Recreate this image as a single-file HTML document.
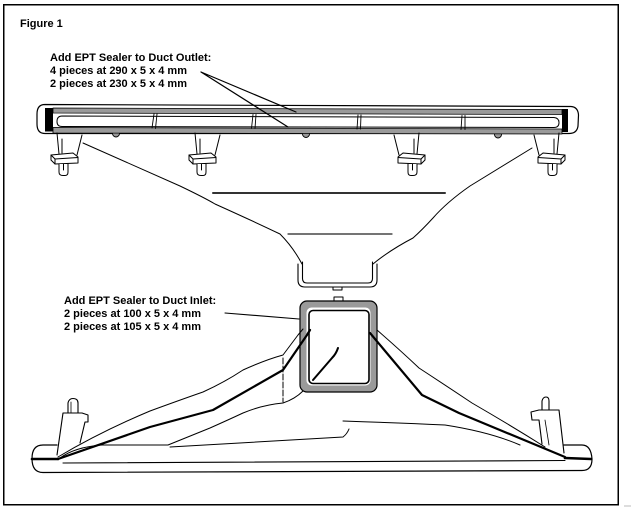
<!DOCTYPE html>
<html><head><meta charset="utf-8"><style>
html,body{margin:0;padding:0;background:#fff;}
svg{display:block;}
text{font-family:"Liberation Sans",Arial,sans-serif;font-weight:bold;font-size:11px;fill:#000;}
</style></head><body>
<svg width="632" height="509" viewBox="0 0 632 509" xmlns="http://www.w3.org/2000/svg">
<rect width="632" height="509" fill="#fff"/>
<rect x="3.75" y="4.75" width="614.5" height="500" fill="none" stroke="#000" stroke-width="1.5"/>
<line x1="624" y1="506" x2="631" y2="506" stroke="#bbb" stroke-width="1"/>

<text x="20" y="27">Figure 1</text>
<text x="50" y="61">Add EPT Sealer to Duct Outlet:</text>
<text x="50" y="74">4 pieces at 290 x 5 x 4 mm</text>
<text x="50" y="87">2 pieces at 230 x 5 x 4 mm</text>

<text x="64" y="304">Add EPT Sealer to Duct Inlet:</text>
<text x="64" y="317">2 pieces at 100 x 5 x 4 mm</text>
<text x="64" y="330">2 pieces at 105 x 5 x 4 mm</text>

<g fill="none" stroke="#000" stroke-linejoin="round" stroke-linecap="round">
<!-- ===== TOP DUCT ===== -->
<path d="M45,104.5 L571,106.5 Q578,107 578.5,115 L578,126 Q577,133.5 569,133.5 L45,133.5 Q37,133.5 37,124 L37,114 Q37,104.5 45,104.5 Z" fill="#fff" stroke-width="1.2"/>
<circle cx="116" cy="133.5" r="3.5" fill="#999" stroke-width="0.9"/>
<circle cx="306" cy="134" r="3.5" fill="#999" stroke-width="0.9"/>
<circle cx="498" cy="134.5" r="3.5" fill="#999" stroke-width="0.9"/>
<path d="M53,108 L562,109.5 L562,114.5 L53,113 Z" fill="#9a9a9a" stroke-width="0.8"/>
<path d="M53,127.5 L562,129 L562,134 L53,133 Z" fill="#9a9a9a" stroke-width="0.8"/>
<rect x="45" y="108" width="8" height="23.5" fill="#000" stroke="none"/>
<rect x="562" y="109" width="6" height="23" fill="#000" stroke="none"/>
<path d="M62,116 L554,117.5 Q559,118 559,122.5 Q559,127.5 554,127.5 L62,126.5 Q57,126.5 57,121.5 Q57,116 62,116 Z" stroke-width="1"/>
<path d="M154,114 L152,128 M157,114 L155.5,128.5" stroke-width="0.9"/>
<path d="M253,114.5 L251.5,128.5 M256,114.5 L255,128.5" stroke-width="0.9"/>
<path d="M358,115 L357,129 M361,115 L360.5,129" stroke-width="0.9"/>
<path d="M462,115.5 L461,129.5 M465,115.5 L465,129.5" stroke-width="0.9"/>

<!-- clips top -->
<g id="clipA" transform="translate(55,133)" stroke-width="1">
 <path d="M2,0 L4,21 M27,2 L22,22 M7,6 L7,20"/>
 <path d="M-4,22 L18,20 L23,24 L23,30 L0,31 L-4,27 Z" fill="#fff"/>
 <path d="M0,26 L23,24.5 M-4,22 L0,26 L0,31"/>
 <path d="M4,31 L4,39 Q4,42.5 8,42.5 L10,42.5 Q13,42.5 13,39 L13,31" fill="#fff"/>
 <path d="M8.5,31 L8.5,37"/>
</g>
<g transform="translate(193,133)" stroke-width="1">
 <path d="M2,0 L4,21 M27,2 L22,22 M7,6 L7,20"/>
 <path d="M-4,22 L18,20 L23,24 L23,30 L0,31 L-4,27 Z" fill="#fff"/>
 <path d="M0,26 L23,24.5 M-4,22 L0,26 L0,31"/>
 <path d="M4,31 L4,39 Q4,42.5 8,42.5 L10,42.5 Q13,42.5 13,39 L13,31" fill="#fff"/>
 <path d="M8.5,31 L8.5,37"/>
</g>
<g transform="translate(421,133) scale(-1,1)" stroke-width="1">
 <path d="M2,0 L4,21 M27,2 L22,22 M7,6 L7,20"/>
 <path d="M-4,22 L18,20 L23,24 L23,30 L0,31 L-4,27 Z" fill="#fff"/>
 <path d="M0,26 L23,24.5 M-4,22 L0,26 L0,31"/>
 <path d="M4,31 L4,39 Q4,42.5 8,42.5 L10,42.5 Q13,42.5 13,39 L13,31" fill="#fff"/>
 <path d="M8.5,31 L8.5,37"/>
</g>
<g transform="translate(561,133) scale(-1,1)" stroke-width="1">
 <path d="M2,0 L4,21 M27,2 L22,22 M7,6 L7,20"/>
 <path d="M-4,22 L18,20 L23,24 L23,30 L0,31 L-4,27 Z" fill="#fff"/>
 <path d="M0,26 L23,24.5 M-4,22 L0,26 L0,31"/>
 <path d="M4,31 L4,39 Q4,42.5 8,42.5 L10,42.5 Q13,42.5 13,39 L13,31" fill="#fff"/>
 <path d="M8.5,31 L8.5,37"/>
</g>

<!-- outlet leader lines -->
<path d="M201,72 L296,112 M201,72 L288,127" stroke-width="1.2"/>

<!-- ===== FUNNEL ===== -->
<path d="M83,143 L180,186 Q205,198 215,204 Q255,222 280,234 Q293,247 302,264" stroke-width="1"/>
<path d="M532,148 L470,186 Q447,202 433,218 Q422,230 413,238 Q390,250 373,264" stroke-width="1"/>
<line x1="213" y1="193" x2="445" y2="193" stroke="#333" stroke-width="2"/>
<line x1="288" y1="234" x2="392" y2="234" stroke="#222" stroke-width="1.2"/>
<!-- neck -->
<path d="M298,264 L298,280 Q298,287 305,287 L370,287 Q377,287 377,280 L377,264" stroke-width="1.1"/>
<path d="M302.5,262 L302.5,278.5 Q302.5,283 307,283 L368,283 Q372.5,283 372.5,278.5 L372.5,262" stroke-width="1.1"/>
<path d="M333,287 L333,290 L342,290 L342,287" stroke-width="1"/>

<!-- ===== INLET SQUARE ===== -->
<path d="M334,301 L334,297 L343,297 L343,301" stroke-width="1"/>
<rect x="300" y="301" width="77" height="91" rx="7" fill="#9a9a9a" stroke-width="1.2"/>
<rect x="306.5" y="307.5" width="64" height="78" rx="5" fill="#fff" stroke="none"/>
<rect x="309" y="310.5" width="60" height="73" rx="4" fill="#fff" stroke-width="1.6"/>
<path d="M338,348 Q336,354 332,358 L313,380" stroke-width="2"/>

<!-- inlet leader -->
<path d="M225,313 L299,319" stroke-width="1.1"/>

<!-- ===== BOTTOM DUCT ===== -->
<path d="M57,445 L43,445 Q32,445 32,458.5 Q32,472.5 43,472.5 L582,470.5 Q592,470.5 592,459 Q591,445 582,445 L564,445" stroke-width="1.2"/>
<path d="M32,459 L58,459" stroke-width="2.6"/>
<path d="M565,458 L591,459" stroke-width="2.6"/>
<path d="M63,463 L565,460.5" stroke-width="1.1"/>

<!-- left clip bottom -->
<path d="M57,455 L63,413 L82,413 L88,415 L88,422 L85,422 L80,443" stroke-width="1.1"/>
<path d="M68,413 L68,403 Q69,398.5 73,398.5 Q78,398.5 78,403 L78,413" stroke-width="1.1"/>
<path d="M71,402 L71,413" stroke-width="0.8"/>
<!-- right clip bottom -->
<path d="M542,444 L539,420 L532,420 L531,412 L539,410 L559,410 L564,453" stroke-width="1.1"/>
<path d="M542,410 L542,401 Q543,397 546,397 Q549,397 549,401 L549,410" stroke-width="1.1"/>
<path d="M545,420 L549,445" stroke-width="0.8"/>

<!-- funnel lines left -->
<path d="M58,457 Q100,432 150,411 Q180,400 203,392 Q225,382 243,370 Q265,360 283,355 L298,335 L303,329" stroke-width="1"/>
<path d="M58,459 L150,427 L213,410 L283,370 L307,335 L310,330" stroke-width="2.2"/>
<path d="M60,458 Q75,447 102,445 L168,445 Q190,436 210,428 Q228,420 243,413 Q262,405 283,403 Q295,399 303,391" stroke-width="1"/>
<path d="M170,447 L343,437 Q347,434 349,429" stroke-width="1"/>
<path d="M343,421 Q400,423 445,425 Q490,432 520,445" stroke-width="1"/>
<path d="M283,358 L283,402" stroke-width="1" stroke-dasharray="6,2"/>

<!-- funnel lines right -->
<path d="M377,330 Q400,350 419,368 Q445,385 472,403 Q510,425 545,447" stroke-width="1"/>
<path d="M370,333 L422,395 L459,413 L565,457" stroke-width="2.2"/>
</g>
</svg>
</body></html>
